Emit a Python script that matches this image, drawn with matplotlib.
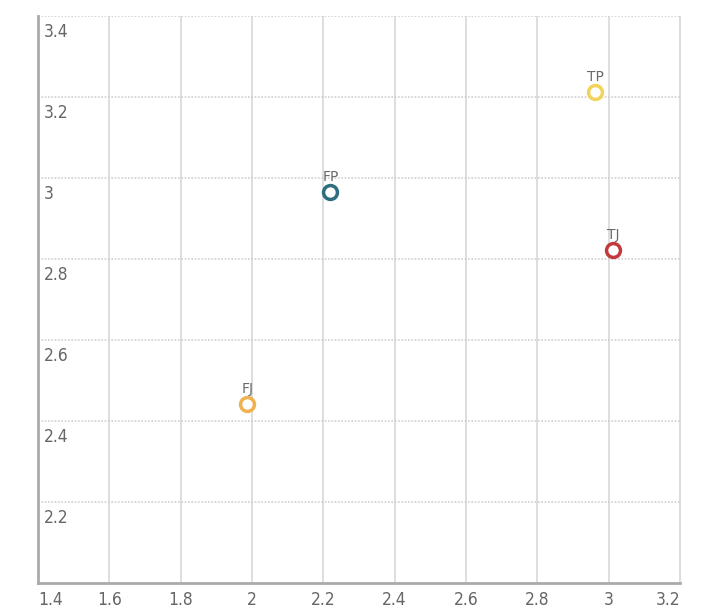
import matplotlib
matplotlib.use("Agg")
import matplotlib.pyplot as plt
import matplotlib.transforms as mtransforms
from matplotlib import font_manager

names = ["FP", "TP", "TJ", "FJ"]
xs = [2.22, 2.962, 3.012, 1.987]
ys = [2.965, 3.212, 2.822, 2.442]
colors = ["#2d6f7e", "#f2d45a", "#c23a3d", "#f0b150"]
xticks = [1.4, 1.6, 1.8, 2.0, 2.2, 2.4, 2.6, 2.8, 3.0, 3.2]
xticklabels = ["1.4", "1.6", "1.8", "2", "2.2", "2.4", "2.6", "2.8", "3", "3.2"]
yticks = [2.2, 2.4, 2.6, 2.8, 3.0, 3.2, 3.4]
yticklabels = ["2.2", "2.4", "2.6", "2.8", "3", "3.2", "3.4"]

avail = {f.name for f in font_manager.fontManager.ttflist}
cond = [f for f in font_manager.fontManager.ttflist if f.name == "DejaVu Sans" and f.stretch == "condensed"]
if "Liberation Sans Narrow" in avail:
    tickprops = dict(fontfamily="Liberation Sans Narrow")
elif cond:
    tickprops = dict(fontfamily="DejaVu Sans", fontstretch="condensed")
else:
    tickprops = dict(fontfamily="Roboto")

fig = plt.figure(figsize=(7.2, 6.16), dpi=100)
ax = fig.add_axes([38/720, 1-583/616, (680-38)/720, (583-16)/616])
ax.set_xlim(1.4, 3.2)
ax.set_ylim(2.0, 3.4)

ax.set_xticks(xticks)
ax.set_xticklabels(xticklabels, fontsize=12.5, color="#666666", **tickprops)
ax.set_yticks(yticks)
ax.set_yticklabels(yticklabels, fontsize=12.5, color="#666666", **tickprops)

ax.tick_params(axis="x", length=0, pad=6)
ax.tick_params(axis="y", length=0, pad=-4)
for lab in ax.get_yticklabels():
    lab.set_ha("left")
    lab.set_va("top")
    lab.set_transform(lab.get_transform() + mtransforms.ScaledTranslation(0, -5/72, fig.dpi_scale_trans))
xl = ax.get_xticklabels()
xl[0].set_ha("left")
xl[-1].set_ha("right")

for x in xticks[1:]:
    ax.axvline(x, color="#d8d8d8", lw=1.2, zorder=0)
for y in yticks:
    ax.axhline(y, color="#cfcfcf", lw=1.2, ls=(0, (1, 1)), zorder=0)

ax.spines["top"].set_visible(False)
ax.spines["right"].set_color("#dddddd")
ax.spines["left"].set_color("#aaaaaa")
ax.spines["bottom"].set_color("#aaaaaa")
ax.spines["left"].set_linewidth(2)
ax.spines["bottom"].set_linewidth(2)

for n, x, y, c in zip(names, xs, ys, colors):
    ax.plot([x], [y], marker="o", ms=10, mfc="white", mec=c, mew=2.5, ls="none", zorder=3)
    ax.annotate(n, (x, y), xytext=(0, 6), textcoords="offset points", ha="center", va="bottom",
                fontsize=10, color="#6a6a6a")

fig.savefig("out.png", dpi=100)
